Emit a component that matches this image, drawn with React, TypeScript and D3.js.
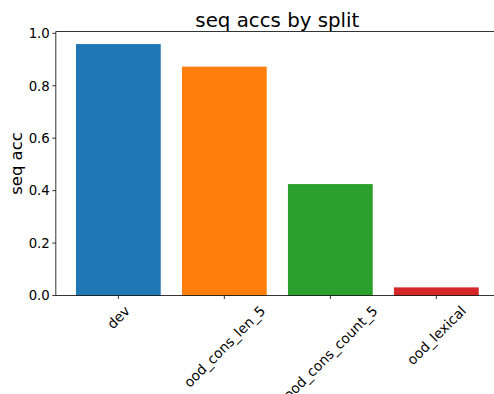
import React, { useEffect, useRef } from "react";
import * as d3 from "d3";

// Sequence accuracy per evaluation split
const splits = ["dev", "ood_cons_len_5", "ood_cons_count_5", "ood_lexical"];
const seqAcc = [0.959, 0.873, 0.425, 0.031];
const barColors = ["#1f77b4", "#ff7f0e", "#2ca02c", "#d62728"];
const yTicks = [0.0, 0.2, 0.4, 0.6, 0.8, 1.0];

const W = 494;
const H = 394;
const FONT = "'DejaVu Sans', sans-serif";

export default function App() {
  const ref = useRef<SVGSVGElement | null>(null);

  useEffect(() => {
    const svg = d3.select(ref.current);
    svg.selectAll("*").remove();

    const left = 55.8;
    const top = 31.5;
    const bottom = 295.5;
    const barW = 0.8;
    const lo = -barW / 2;
    const hi = splits.length - 1 + barW / 2;
    const pad = (hi - lo) * 0.05;
    const unit = 106;
    const x = d3
      .scaleLinear()
      .domain([lo - pad, hi + pad])
      .range([left, left + unit * (hi - lo + 2 * pad)]);
    const yMax = (d3.max(seqAcc) as number) * 1.05;
    const y = d3.scaleLinear().domain([0, yMax]).range([bottom, top]);
    const right = x.range()[1];

    // bars
    svg
      .append("g")
      .selectAll("rect")
      .data(seqAcc)
      .join("rect")
      .attr("x", (_, i) => x(i - barW / 2))
      .attr("width", (_, i) => x(i + barW / 2) - x(i - barW / 2))
      .attr("y", (d) => y(d))
      .attr("height", (d) => y(0) - y(d))
      .attr("fill", (_, i) => barColors[i]);

    // spines (the right one falls past the svg edge)
    const spine = svg.append("g").attr("stroke", "#000").attr("stroke-width", 0.8).attr("fill", "none");
    spine.append("line").attr("x1", left).attr("x2", left).attr("y1", top).attr("y2", bottom);
    spine.append("line").attr("x1", left).attr("x2", right).attr("y1", bottom).attr("y2", bottom);
    spine.append("line").attr("x1", left).attr("x2", right).attr("y1", top).attr("y2", top);

    // y axis
    const yAxis = svg.append("g");
    yTicks.forEach((t) => {
      yAxis
        .append("line")
        .attr("x1", left - 3.5)
        .attr("x2", left)
        .attr("y1", y(t))
        .attr("y2", y(t))
        .attr("stroke", "#000")
        .attr("stroke-width", 0.8);
      yAxis
        .append("text")
        .attr("x", left - 6)
        .attr("y", y(t))
        .attr("dy", "0.36em")
        .attr("text-anchor", "end")
        .attr("font-family", FONT)
        .attr("font-size", 13.3)
        .attr("fill", "#000")
        .text(d3.format(".1f")(t));
    });

    // x axis with rotated labels
    const xAxis = svg.append("g");
    const fs = 13.8;
    splits.forEach((s, i) => {
      xAxis
        .append("line")
        .attr("x1", x(i))
        .attr("x2", x(i))
        .attr("y1", bottom)
        .attr("y2", bottom + 3.5)
        .attr("stroke", "#000")
        .attr("stroke-width", 0.8);
      const t = xAxis
        .append("text")
        .attr("text-anchor", "middle")
        .attr("dominant-baseline", "central")
        .attr("font-family", FONT)
        .attr("font-size", fs)
        .attr("fill", "#000")
        .text(s);
      const w = (t.node() as SVGTextElement).getComputedTextLength();
      const h = fs * 1.16;
      const cx = x(i);
      const cy = bottom + 7 + (w + h) / (2 * Math.SQRT2);
      t.attr("x", cx).attr("y", cy).attr("transform", `rotate(-45, ${cx}, ${cy})`);
    });

    // y label
    svg
      .append("text")
      .attr("transform", `translate(22, ${(top + bottom) / 2}) rotate(-90)`)
      .attr("text-anchor", "middle")
      .attr("font-family", FONT)
      .attr("font-size", 16.5)
      .attr("fill", "#000")
      .text("seq acc");

    // title
    svg
      .append("text")
      .attr("x", (left + right) / 2)
      .attr("y", 26.5)
      .attr("text-anchor", "middle")
      .attr("font-family", FONT)
      .attr("font-size", 19.8)
      .attr("fill", "#000")
      .text("seq accs by split");
  }, []);

  return (
    <svg
      ref={ref}
      width={W}
      height={H}
      style={{ position: "fixed", left: 0, top: 0, background: "#fff" }}
    />
  );
}
